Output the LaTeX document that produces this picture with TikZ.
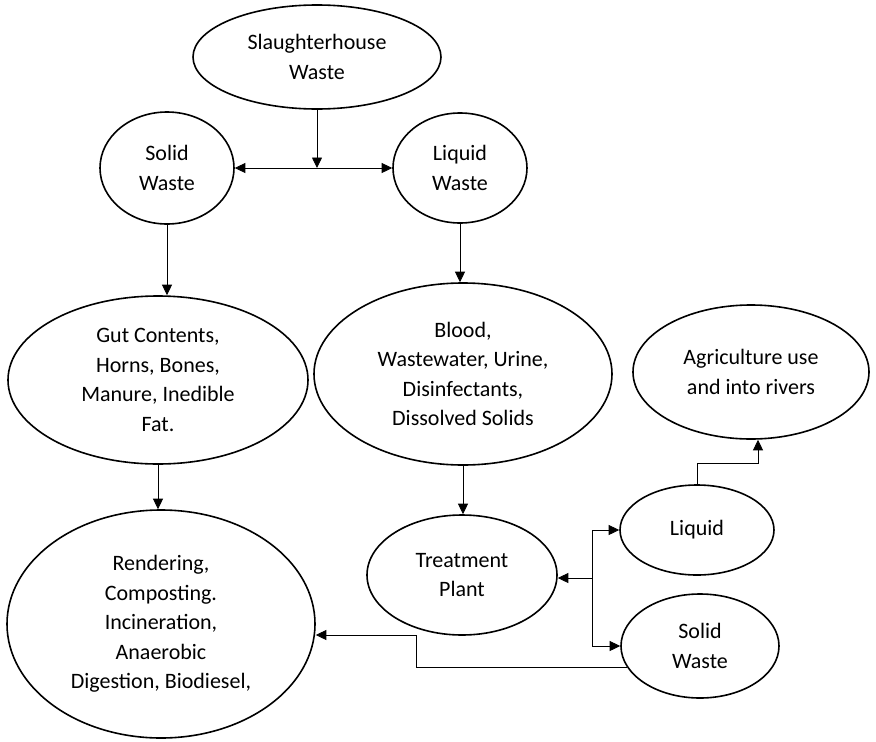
\documentclass[tikz,border=0pt]{standalone}
\usepackage{fontspec}
\setmainfont{Carlito}
\usetikzlibrary{arrows.meta,positioning,calc,shapes.geometric}
\tikzset{
  blob/.style={draw=black, ellipse, line width=1.6pt, align=center, inner sep=0pt, font=\fontsize{22}{29.5}\selectfont},
  arrow/.style={-{Triangle[length=10.5pt,width=10pt]}, line width=0.8pt},
  plain/.style={line width=0.8pt}
}

\begin{document}
\begin{tikzpicture}[x=1pt, y=-1pt]
\useasboundingbox (0,0) rectangle (876,742);
\node[blob, minimum width=248pt, minimum height=104pt] (slaughter) at (317,57) {Slaughterhouse\\Waste};
\node[blob, minimum width=134pt, minimum height=112pt] (solid) at (167,168) {Solid\\Waste};
\node[blob, minimum width=134pt, minimum height=110pt] (liquid) at (460,168) {Liquid\\Waste};
\node[blob, minimum width=300pt, minimum height=168pt] (gut) at (158,380) {Gut Contents,\\Horns, Bones,\\Manure, Inedible\\Fat.};
\node[blob, minimum width=298pt, minimum height=182pt] (blood) at (463,374) {Blood,\\Wastewater, Urine,\\Disinfectants,\\Dissolved Solids};
\node[blob, minimum width=308pt, minimum height=228pt] (render) at (161,624) {Rendering,\\Composting.\\Incineration,\\Anaerobic\\Digestion, Biodiesel,};
\node[blob, minimum width=190pt, minimum height=120pt] (plant) at (462,575) {Treatment\\Plant};
\node[blob, minimum width=236pt, minimum height=134pt] (agri) at (751,372) {Agriculture use\\and into rivers};
\node[blob, minimum width=154pt, minimum height=90pt] (liq) at (697,530) {Liquid};
\node[blob, minimum width=158pt, minimum height=104pt] (sol) at (700,646) {Solid\\Waste};

\coordinate (split) at (317,168);
\coordinate (hub) at (592,578);
\coordinate (rise) at (758,463);
\coordinate (back) at (416,635);

% top split
\draw[arrow] (slaughter.south) -- (split);
\draw[arrow] (split) -- (solid.east);
\draw[arrow] (split) -- (liquid.west);

% two branches
\draw[arrow] (solid.south) -- (solid.south |- gut.north);
\draw[arrow] (gut.south) -- (gut.south |- render.north);
\draw[arrow] (liquid.south) -- (liquid.south |- blood.north);
\draw[arrow] (blood.south) -- (blood.south |- plant.north);

% treatment outputs
\draw[plain] (hub |- liq.west) -- (hub |- sol.west);
\draw[arrow] (hub) -- (hub -| plant.east);
\draw[arrow] (hub |- liq.west) -- (liq.west);
\draw[arrow] (hub |- sol.west) -- (sol.west);
\draw[arrow] (liq.north) |- (rise) -- (rise |- agri.south);
\draw[arrow] (sol.196) -| (back) -- (back -| render.east);
\end{tikzpicture}
\end{document}
